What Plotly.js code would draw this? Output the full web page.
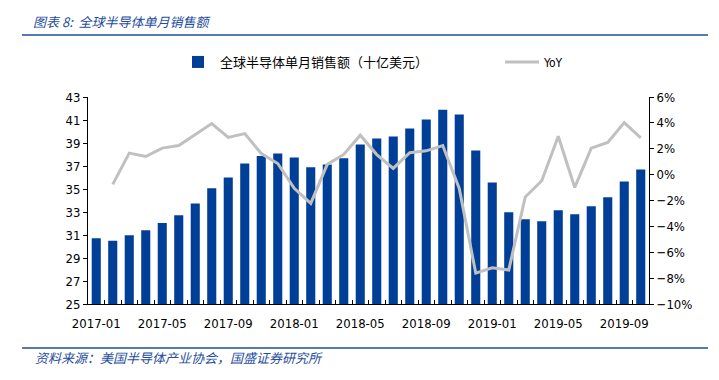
<!DOCTYPE html>
<html>
<head>
<meta charset="utf-8">
<script src="https://cdn.plot.ly/plotly-3.0.1.min.js"></script>
<style>html,body{margin:0;padding:0;background:#fff;}#chart{width:719px;height:380px;}</style>
</head>
<body>
<div id="chart"></div>
<script>
const months = [
  "2017-01","2017-02","2017-03","2017-04","2017-05","2017-06","2017-07","2017-08","2017-09","2017-10","2017-11","2017-12",
  "2018-01","2018-02","2018-03","2018-04","2018-05","2018-06","2018-07","2018-08","2018-09","2018-10","2018-11","2018-12",
  "2019-01","2019-02","2019-03","2019-04","2019-05","2019-06","2019-07","2019-08","2019-09","2019-10"
];
const sales = [
  30.72,30.49,30.98,31.41,32.05,32.71,33.75,35.06,36.01,37.22,37.86,38.09,
  37.74,36.90,37.13,37.68,38.87,39.39,39.56,40.26,41.04,41.90,41.47,38.35,
  35.57,32.97,32.37,32.19,33.15,32.80,33.49,34.28,35.66,36.70
];
const yoy = [
  null,-0.75,1.66,1.40,2.05,2.25,3.07,3.95,2.87,3.17,1.63,0.86,
  -1.06,-2.22,0.79,1.56,3.05,1.55,0.48,1.69,1.84,2.25,-1.06,-7.61,
  -7.20,-7.38,-1.73,-0.47,2.97,-0.99,2.05,2.48,4.02,2.84
];
const labeledMonths = ["2017-01","2017-05","2017-09","2018-01","2018-05","2018-09","2019-01","2019-05","2019-09"];
const salesName = "全球半导体单月销售额（十亿美元）";
const yoyName = "YoY";
const titleText = "图表 8:  全球半导体单月销售额";
const sourceText = "资料来源：美国半导体产业协会，国盛证券研究所";

const numFont = "DejaVu Sans Condensed, DejaVu Sans, sans-serif";
const cjkFont = "Noto Sans CJK SC, sans-serif";
const blueTxt = "#1f4e9c";

const traces = [
  {type:"bar", name:salesName, x:months, y:sales, marker:{color:"#003f98"}, yaxis:"y", legend:"legend"},
  {type:"scatter", mode:"lines", name:yoyName, x:months, y:yoy, yaxis:"y2", legend:"legend2",
   line:{color:"#c0c0c0", width:3}, connectgaps:false}
];

const L = 88, R = 649, T = 97, B = 304;
const pw = R - L, ph = B - T;
const px = v => (v - L) / pw;
const py = v => (B - v) / ph;

const legendBase = {orientation:"h", xanchor:"left", yanchor:"middle",
  font:{family:cjkFont, size:13, color:"#000"}, itemwidth:34, bgcolor:"rgba(0,0,0,0)", borderwidth:0};

const layout = {
  width:719, height:380,
  margin:{l:L, r:719-R, t:T, b:380-B, pad:0},
  paper_bgcolor:"#fff", plot_bgcolor:"#fff",
  bargap:0.45,
  showlegend:true,
  legend:Object.assign({}, legendBase, {x:px(176), y:py(62)}),
  legend2:Object.assign({}, legendBase, {x:px(500), y:py(62), font:{family:numFont, size:12, color:"#000"}}),
  title:{text:titleText, x:33/719, xanchor:"left", y:1-22/380, yanchor:"middle",
         xref:"container", yref:"container",
         font:{family:cjkFont, size:13, color:blueTxt, style:"italic"}},
  xaxis:{type:"category", tickmode:"array", tickvals:months,
         ticktext:months.map(m => labeledMonths.includes(m) ? m : ""),
         tickson:"boundaries", ticks:"inside", ticklen:4, tickcolor:"#000", tickwidth:1,
         ticklabelstandoff:7,
         showline:true, linecolor:"#000", linewidth:1, showgrid:false, zeroline:false,
         tickangle:0, tickfont:{family:numFont, size:13, color:"#000"}, range:[-0.5,33.5]},
  yaxis:{range:[25,43], dtick:2, tick0:25, ticks:"outside", ticklen:4, tickcolor:"#000",
         showline:true, linecolor:"#000", linewidth:1, showgrid:false, zeroline:false,
         tickfont:{family:numFont, size:13, color:"#000"}},
  yaxis2:{overlaying:"y", side:"right", range:[-10,6], dtick:2, tick0:-10, ticksuffix:"%",
          ticks:"outside", ticklen:4, tickcolor:"#000", showline:true, linecolor:"#000",
          linewidth:1, showgrid:false, zeroline:false,
          tickfont:{family:numFont, size:13, color:"#000"}},
  shapes:[
    {type:"line", xref:"paper", yref:"paper", x0:px(22), x1:px(708), y0:py(35), y1:py(35),
     line:{color:blueTxt, width:1.5}},
    {type:"line", xref:"paper", yref:"paper", x0:px(22), x1:px(708), y0:py(348), y1:py(348),
     line:{color:blueTxt, width:1.5}}
  ],
  annotations:[
    {text:sourceText, xref:"paper", yref:"paper", x:px(33), y:py(357), xanchor:"left", yanchor:"middle",
     showarrow:false, font:{family:cjkFont, size:13, color:blueTxt, style:"italic"}}
  ]
};

Plotly.newPlot("chart", traces, layout, {displayModeBar:false, staticPlot:true});
</script>
</body>
</html>
